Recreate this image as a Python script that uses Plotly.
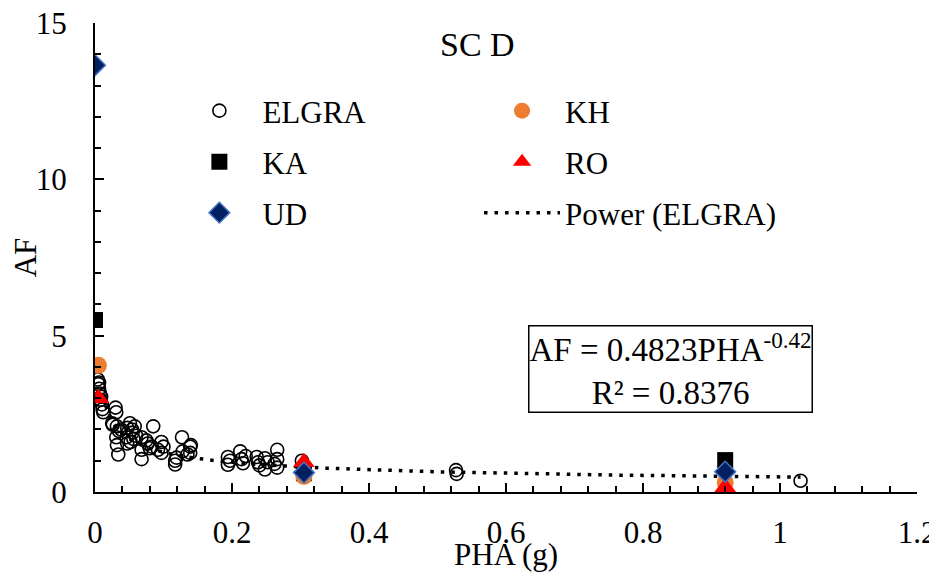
import numpy as np
import plotly.graph_objects as go

# ELGRA observations (PHA in g, AF)
elgra_x = [0.004, 0.005, 0.006, 0.007, 0.008, 0.010, 0.011, 0.012, 0.006, 0.009,
           0.030, 0.031, 0.026, 0.025, 0.032, 0.031, 0.032, 0.034, 0.035, 0.038,
           0.047, 0.051, 0.054, 0.046, 0.047, 0.055, 0.058, 0.056, 0.052, 0.060,
           0.068, 0.068, 0.068, 0.075, 0.077, 0.085, 0.083, 0.080, 0.097, 0.097, 0.100, 0.092,
           0.117, 0.117, 0.119, 0.127, 0.128, 0.139, 0.139, 0.140, 0.135,
           0.194, 0.194, 0.197, 0.212, 0.214, 0.216, 0.220, 0.236, 0.238, 0.240,
           0.248, 0.248, 0.252, 0.266, 0.266, 0.266, 0.262,
           0.302, 0.527, 0.528, 1.030]
elgra_y = [3.60, 3.45, 3.30, 3.15, 2.95, 2.80, 2.65, 2.55, 3.50, 3.05,
           2.70, 2.55, 2.15, 2.20, 2.10, 1.75, 1.50, 1.20, 1.95, 2.00,
           2.05, 2.20, 2.00, 1.75, 1.55, 1.90, 2.10, 1.70, 1.60, 1.80,
           1.75, 1.35, 1.05, 1.65, 1.55, 2.10, 1.45, 1.40, 1.60, 1.25, 1.45, 1.35,
           1.00, 0.88, 1.10, 1.75, 1.30, 1.45, 1.25, 1.50, 1.20,
           1.12, 0.87, 1.00, 1.30, 1.05, 0.92, 1.15, 1.12, 0.95, 0.85,
           1.08, 0.72, 0.95, 1.35, 1.05, 0.78, 0.90,
           1.00, 0.70, 0.58, 0.36]

ka_x = [0.0, 0.305, 0.92]
ka_y = [5.5, 0.6, 1.02]
kh_x = [0.005, 0.305, 0.92]
kh_y = [4.05, 0.5, 0.3]
ro_x = [0.005, 0.305, 0.92]
ro_y = [3.0, 0.95, 0.15]
ud_x = [0.0, 0.305, 0.92]
ud_y = [13.65, 0.62, 0.65]

# Power trendline coefficients (as printed on chart)
fit_a = 0.4823
fit_b = -0.42
fit_r2 = 0.8376
fit_x_start = 0.012

FONT = "Liberation Serif, Times New Roman, serif"

fx = np.linspace(fit_x_start, max(elgra_x), 400)
fy = fit_a * fx ** fit_b

fig = go.Figure()
fig.add_trace(go.Scatter(x=elgra_x, y=elgra_y, mode="markers", name="ELGRA",
                         marker=dict(symbol="circle-open", size=13, color="black",
                                     line=dict(width=1.6, color="black")),
                         legend="legend"))
fig.add_trace(go.Scatter(x=fx, y=fy, mode="lines", name="Power (ELGRA)",
                         line=dict(color="black", width=3.5, dash="3.5px,7px"),
                         legend="legend6"))
fig.add_trace(go.Scatter(x=ka_x, y=ka_y, mode="markers", name="KA",
                         marker=dict(symbol="square", size=16, color="black"),
                         legend="legend2"))
fig.add_trace(go.Scatter(x=kh_x, y=kh_y, mode="markers", name="KH",
                         marker=dict(symbol="circle", size=17, color="#ED7D31"),
                         legend="legend4"))
fig.add_trace(go.Scatter(x=ro_x, y=ro_y, mode="markers", name="RO",
                         marker=dict(symbol="triangle-up", size=19, color="#FF0000"),
                         legend="legend5"))
fig.add_trace(go.Scatter(x=ud_x, y=ud_y, mode="markers", name="UD",
                         marker=dict(symbol="diamond", size=16, color="#002060",
                                     line=dict(width=1.5, color="#4472C4")),
                         legend="legend3"))

axis_common = dict(showline=True, linecolor="black", linewidth=2, mirror=False,
                   ticks="inside", ticklen=9, tickwidth=2, tickcolor="black",
                   showgrid=False, zeroline=False, automargin=False,
                   ticklabeloverflow="allow",
                   tickfont=dict(family=FONT, size=31, color="black"))

fig.update_xaxes(range=[0, 1.2],
                 tickvals=[0, 0.2, 0.4, 0.6, 0.8, 1.0, 1.2],
                 ticktext=["0", "0.2", "0.4", "0.6", "0.8", "1", "1.2"],
                 minor=dict(ticks="inside", ticklen=6, tickwidth=1.5, tickcolor="black", dtick=0.04, tick0=0),
                 title=dict(text="PHA (g)", font=dict(family=FONT, size=31, color="black"), standoff=8),
                 ticklabelstandoff=12,
                 **axis_common)
fig.update_yaxes(range=[0, 15], tick0=0, dtick=5,
                 minor=dict(ticks="inside", ticklen=6, tickwidth=1.5, tickcolor="black", dtick=1, tick0=0),
                 title=dict(text="AF", font=dict(family=FONT, size=31, color="black"), standoff=22),
                 ticklabelstandoff=20,
                 **axis_common)

legend_common = dict(font=dict(family=FONT, size=31, color="black"),
                     bgcolor="rgba(0,0,0,0)", itemwidth=76,
                     orientation="v", xref="paper", yref="paper",
                     xanchor="left", yanchor="middle", itemclick=False)
col1_x, col2_x = 0.099, 0.4672
row_y = [0.8124, 0.7036, 0.5949]
fig.update_layout(
    legend=dict(x=col1_x, y=row_y[0], **legend_common),
    legend2=dict(x=col1_x, y=row_y[1], **legend_common),
    legend3=dict(x=col1_x, y=row_y[2], **legend_common),
    legend4=dict(x=col2_x, y=row_y[0], **legend_common),
    legend5=dict(x=col2_x, y=row_y[1], **legend_common),
    legend6=dict(x=col2_x, y=row_y[2], **legend_common),
)

fig.add_annotation(xref="paper", yref="paper", x=0.465, y=0.954,
                   xanchor="center", yanchor="middle",
                   text="SC D", showarrow=False,
                   font=dict(family=FONT, size=34, color="black"))
fig.add_annotation(xref="paper", yref="paper", x=0.7007, y=0.262,
                   xanchor="center", yanchor="middle",
                   text=f"AF = {fit_a}PHA<sup>{fit_b}</sup><br>R² = {fit_r2}",
                   showarrow=False, align="center",
                   bordercolor="black", borderwidth=1.5, borderpad=0, bgcolor="white",
                   font=dict(family=FONT, size=33, color="black"))

# page body adds an 8px offset, so the figure is sized to fit the window
fig.update_layout(width=929, height=564, plot_bgcolor="white", paper_bgcolor="white",
                  margin=dict(l=87, r=20, t=15, b=80, pad=0), showlegend=True)

fig.write_html("out.html")
